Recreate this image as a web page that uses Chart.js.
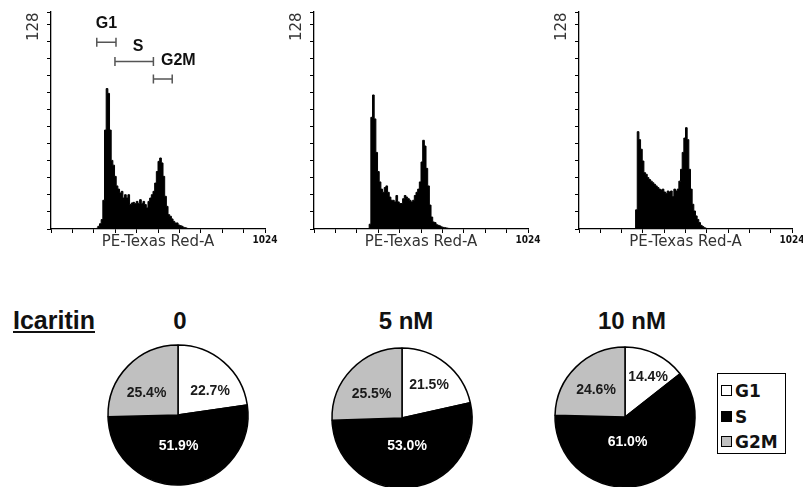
<!DOCTYPE html>
<html>
<head>
<meta charset="utf-8">
<script src="https://cdn.jsdelivr.net/npm/chart.js@4.4.1/dist/chart.umd.min.js"></script>
<style>
html, body { margin: 0; padding: 0; background: #fff; }
body { width: 803px; height: 487px; overflow: hidden; position: relative; font-family: "Liberation Sans", Arial, sans-serif; color: #111; }
canvas { position: absolute; }
.head { position: absolute; font-weight: bold; font-size: 24px; line-height: 1; white-space: nowrap; transform: translate(-50%, -50%); }
#drug { position: absolute; left: 13px; top: 308px; font-weight: bold; font-size: 25px; line-height: 25px; text-decoration: underline; text-decoration-thickness: 2px; text-underline-offset: 2px; }
#legend { position: absolute; left: 717px; top: 373px; width: 67px; height: 79px; border: 1.5px solid #000; font-family: "DejaVu Sans", sans-serif; font-weight: bold; font-size: 17px; }
.item { position: absolute; left: 3px; height: 20px; line-height: 20px; white-space: nowrap; }
.sw { display: inline-block; width: 9px; height: 9px; border: 1px solid #000; margin-right: 3px; vertical-align: 1px; }
</style>
</head>
<body>
<canvas id="h0" width="268" height="251" style="left:11px;top:0"></canvas>
<canvas id="h1" width="268" height="251" style="left:274px;top:0"></canvas>
<canvas id="h2" width="267" height="251" style="left:539px;top:0"></canvas>

<div id="drug">Icaritin</div>
<div class="head" style="left:180px;top:321px">0</div>
<div class="head" style="left:406px;top:321px">5 nM</div>
<div class="head" style="left:632px;top:321px">10 nM</div>

<canvas id="p0" width="160" height="160" style="left:98px;top:335px"></canvas>
<canvas id="p1" width="160" height="160" style="left:322px;top:338px"></canvas>
<canvas id="p2" width="160" height="160" style="left:545px;top:337px"></canvas>

<div id="legend"></div>

<script>
// ==================== DATA ====================
// histogram bins (PE-Texas Red-A channel, 8 channels wide)
const binStart = [200, 208, 216, 224, 232, 240, 248, 256, 264, 272, 280, 288, 296, 304, 312,
  320, 328, 336, 344, 352, 360, 368, 376, 384, 392, 400, 408, 416, 424, 432, 440, 448, 456,
  464, 472, 480, 488, 496, 504, 512, 520, 528, 536, 544, 552, 560, 568, 576, 584, 592, 600,
  608, 616, 624, 632, 640, 648, 656, 664, 672];

const count0nM = [0, 0, 0.4, 1.7, 3.3, 5.9, 18, 62, 88, 85, 62, 43, 40, 33, 27, 25, 22.6, 23.6,
  19.4, 21.5, 19.4, 21.5, 15.3, 16.3, 16.7, 15.9, 17.3, 15.9, 18.4, 15.9, 17.3, 15.3, 13.2, 17.3,
  19.4, 21.5, 23.6, 28.8, 36, 42.4, 44.5, 41.4, 33, 20.5, 14.2, 9, 8, 6.3, 4.8, 3.8, 3.8, 2.5,
  2.1, 1.7, 1, 0.8, 0.4, 0.2, 0, 0];

const count5nM = [0, 0, 0, 0, 0, 0, 0, 0, 3, 70, 84, 69, 48, 36, 29.5, 25, 23, 26, 27, 23, 20,
  18, 18, 17, 21, 17, 16, 16, 19, 21, 20, 19, 18, 17, 18, 21, 23, 25, 29.5, 42, 55.6, 52, 38,
  27, 15, 7.5, 4.4, 4, 2.7, 2.3, 1.9, 1.3, 1, 0.8, 0.6, 0.4, 0.2, 0, 0, 0];

const count10nM = [0, 0, 0, 0, 0, 0, 0, 0, 0, 12, 61, 56, 50, 42.6, 35.3, 34.3, 32.2, 31, 30,
  29, 28, 27, 26, 25, 24.5, 25, 23.2, 22.4, 23.8, 23.2, 23.8, 20.3, 25, 23.8, 25, 30, 37.4, 48,
  57, 63.5, 56, 37.4, 25, 15.5, 11.3, 8.2, 6, 4, 2.3, 1.5, 0.8, 0.4, 0.2, 0.3, 0.2, 0, 0, 0, 0, 0];

const xTicks = [0, 102.4, 204.8, 307.2, 409.6, 512, 614.4, 716.8, 819.2, 921.6, 1024];
const yTicks = [0, 10.67, 21.33, 32, 42.67, 53.33, 64, 74.67, 85.33, 96, 106.67, 117.33, 128, 136];

// cell-cycle gates drawn on the first histogram
const gateNames = ['G1', 'S', 'G2M'];
const gateFrom = [219, 306, 490];
const gateTo = [311, 490, 580];
const gateLevel = [117, 105, 94];

// pie charts
const phases = ['G1', 'S', 'G2M'];
const pct0nM = [22.7, 51.9, 25.4];
const pct5nM = [21.5, 53.0, 25.5];
const pct10nM = [14.4, 61.0, 24.6];

const PHASE_COLORS = ['#ffffff', '#000000', '#c0c0c0'];

// ==================== HISTOGRAMS ====================
const histoDecor = {
    id: 'histoDecor',
    afterDatasetsDraw(chart, args, opts) {
        const { ctx, scales: { x, y } } = chart;
        // rotated "128" at the top tick
        ctx.save();
        ctx.font = '15px "DejaVu Sans"';
        ctx.fillStyle = '#333';
        ctx.textAlign = 'center';
        ctx.textBaseline = 'middle';
        ctx.translate(x.left - 17, y.getPixelForValue(128) + 2);
        ctx.rotate(-Math.PI / 2);
        ctx.fillText('128', 0, 0);
        ctx.restore();

        if (!opts.gates) return;
        ctx.save();
        gateNames.forEach((name, i) => {
            const x1 = x.getPixelForValue(gateFrom[i]);
            const x2 = x.getPixelForValue(gateTo[i]);
            const yy = y.getPixelForValue(gateLevel[i]);
            ctx.strokeStyle = '#555';
            ctx.lineWidth = 1.5;
            ctx.beginPath();
            ctx.moveTo(x1, yy); ctx.lineTo(x2, yy);
            ctx.moveTo(x1, yy - 4.5); ctx.lineTo(x1, yy + 4.5);
            ctx.moveTo(x2, yy - 4.5); ctx.lineTo(x2, yy + 4.5);
            ctx.stroke();
            const shift = opts.labelShift[i];
            ctx.font = 'bold 16px "Liberation Sans"';
            ctx.fillStyle = '#111';
            ctx.textAlign = 'center';
            ctx.textBaseline = 'middle';
            ctx.fillText(name, (x1 + x2) / 2 + shift[0], yy + shift[1]);
        });
        ctx.restore();
    }
};

function makeHisto(id, counts, gates) {
    const points = binStart.map((b, i) => ({ x: b, y: counts[i] }));
    points.push({ x: binStart[binStart.length - 1] + 8, y: 0 });

    return new Chart(document.getElementById(id), {
        type: 'line',
        data: {
            datasets: [{
                data: points,
                stepped: true,
                fill: 'origin',
                backgroundColor: '#000',
                borderColor: '#000',
                borderWidth: 1,
                pointRadius: 0
            }]
        },
        options: {
            responsive: false,
            animation: false,
            layout: { padding: { left: 0, right: 14, top: 12, bottom: 0 } },
            plugins: {
                legend: { display: false },
                tooltip: { enabled: false },
                histoDecor: { gates: gates, labelShift: [[0, -18.5], [4, -14.5], [15.5, -18]] }
            },
            scales: {
                x: {
                    type: 'linear',
                    min: 0,
                    max: 1024,
                    afterBuildTicks: s => { s.ticks = xTicks.map(v => ({ value: v })); },
                    afterFit: s => { s.height = 22; },
                    grid: { drawOnChartArea: false, drawTicks: true, tickLength: 4, color: '#000', lineWidth: 1 },
                    border: { display: true, color: '#000', width: 1.3 },
                    ticks: {
                        autoSkip: false,
                        maxRotation: 0,
                        minRotation: 0,
                        padding: 1,
                        color: '#111',
                        font: { family: '"DejaVu Sans Condensed", "DejaVu Sans"', size: 10, weight: 'bold' },
                        callback: v => (v === 1024 ? '1024' : '')
                    },
                    title: {
                        display: true,
                        text: 'PE-Texas Red-A',
                        color: '#333',
                        font: { family: '"DejaVu Sans"', size: 15 },
                        padding: { top: 0, bottom: 0 }
                    }
                },
                y: {
                    min: 0,
                    max: 136,
                    afterBuildTicks: s => { s.ticks = yTicks.map(v => ({ value: v })); },
                    afterFit: s => { s.width = 40; },
                    grid: { drawOnChartArea: false, drawTicks: true, tickLength: 4, color: '#000', lineWidth: 1 },
                    border: { display: true, color: '#000', width: 1.3 },
                    ticks: { display: false, autoSkip: false }
                }
            }
        },
        plugins: [histoDecor]
    });
}

makeHisto('h0', count0nM, true);
makeHisto('h1', count5nM, false);
makeHisto('h2', count10nM, false);

// ==================== PIES ====================
const pieLabels = {
    id: 'pieLabels',
    afterDatasetsDraw(chart, args, opts) {
        const { ctx } = chart;
        const meta = chart.getDatasetMeta(0);
        const values = chart.data.datasets[0].data;
        ctx.save();
        ctx.font = 'bold 14px "Liberation Sans"';
        ctx.textAlign = 'center';
        ctx.textBaseline = 'middle';
        meta.data.forEach((arc, i) => {
            const off = opts.offsets[i];
            ctx.fillStyle = i === 1 ? '#fff' : '#1a1a1a';
            ctx.fillText(values[i].toFixed(1) + '%', arc.x + off[0], arc.y + off[1]);
        });
        ctx.restore();
    }
};

function makePie(id, values, offsets) {
    return new Chart(document.getElementById(id), {
        type: 'pie',
        data: {
            labels: phases,
            datasets: [{
                data: values,
                backgroundColor: PHASE_COLORS,
                borderColor: '#000',
                borderWidth: 1.5,
                radius: 70
            }]
        },
        options: {
            responsive: false,
            animation: false,
            layout: { padding: 0 },
            plugins: {
                legend: { display: false },
                tooltip: { enabled: false },
                pieLabels: { offsets: offsets }
            }
        },
        plugins: [pieLabels]
    });
}

makePie('p0', pct0nM, [[32, -23.5], [0.5, 31.5], [-31.5, -22]]);
makePie('p1', pct5nM, [[27, -33], [5, 28.5], [-30.5, -24]]);
makePie('p2', pct10nM, [[23, -39.5], [2.5, 25.5], [-29, -26.5]]);

// ==================== LEGEND ====================
const legend = document.getElementById('legend');
const rowTop = [7, 33, 58];
phases.forEach((name, i) => {
    const row = document.createElement('div');
    row.className = 'item';
    row.style.top = rowTop[i] + 'px';
    const sw = document.createElement('span');
    sw.className = 'sw';
    sw.style.background = PHASE_COLORS[i];
    row.appendChild(sw);
    row.appendChild(document.createTextNode(name));
    legend.appendChild(row);
});
</script>
</body>
</html>
